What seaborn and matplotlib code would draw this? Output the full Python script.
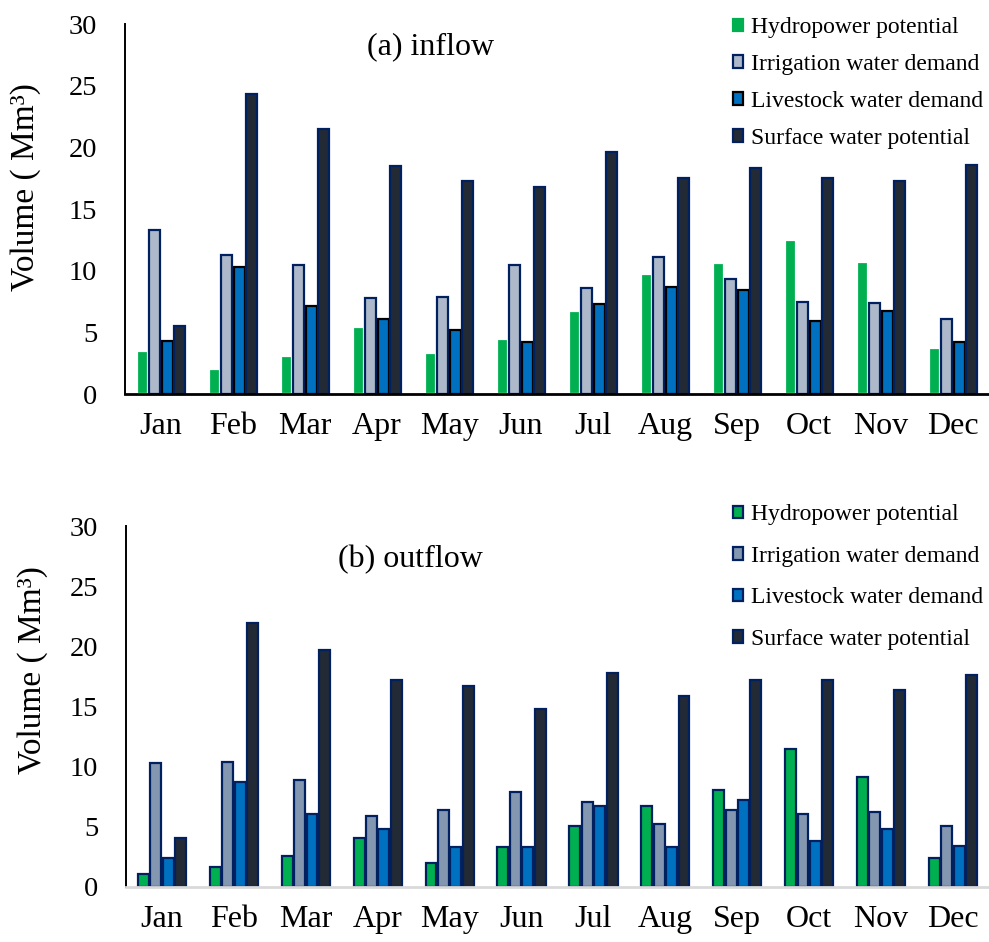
import matplotlib
matplotlib.use("Agg")
import matplotlib.pyplot as plt
from matplotlib.patches import Patch
import pandas as pd
import seaborn as sns

months = ["Jan", "Feb", "Mar", "Apr", "May", "Jun",
          "Jul", "Aug", "Sep", "Oct", "Nov", "Dec"]
series = ["Hydropower potential", "Irrigation water demand",
          "Livestock water demand", "Surface water potential"]

# (a) inflow, Mm3
in_hydro = [3.5, 2.0, 3.1, 5.4, 3.3, 4.5, 6.7, 9.7, 10.6, 12.5, 10.7, 3.7]
in_irrig = [13.3, 11.3, 10.5, 7.8, 7.9, 10.5, 8.6, 11.1, 9.3, 7.5, 7.4, 6.1]
in_live = [4.3, 10.3, 7.1, 6.1, 5.2, 4.2, 7.3, 8.7, 8.4, 5.9, 6.7, 4.2]
in_surf = [5.5, 24.3, 21.5, 18.5, 17.3, 16.8, 19.6, 17.5, 18.3, 17.5, 17.3, 18.6]

# (b) outflow, Mm3
out_hydro = [1.1, 1.7, 2.6, 4.1, 2.0, 3.3, 5.1, 6.7, 8.1, 11.5, 9.1, 2.4]
out_irrig = [10.3, 10.4, 8.9, 5.9, 6.4, 7.9, 7.1, 5.2, 6.4, 6.1, 6.2, 5.1]
out_live = [2.4, 8.7, 6.1, 4.8, 3.3, 3.3, 6.7, 3.3, 7.2, 3.8, 4.8, 3.4]
out_surf = [4.1, 21.9, 19.7, 17.2, 16.7, 14.8, 17.8, 15.9, 17.2, 17.2, 16.4, 17.6]

pal_in = ["#00B050", "#ADB9CA", "#0070C0", "#222A35"]
edge_in = ["white", "#002060", "black", "#002060"]
pal_out = ["#00B050", "#8497B0", "#0070C0", "#222A35"]
edge_out = ["#002060", "#002060", "#002060", "#002060"]


def long_table(vals):
    rows = []
    for name, v in zip(series, vals):
        for m, x in zip(months, v):
            rows.append({"month": m, "series": name, "value": x})
    return pd.DataFrame(rows)


sns.set_theme(style="white")
plt.rcParams["font.family"] = ["Liberation Serif", "DejaVu Serif"]
plt.rcParams["text.color"] = "black"
plt.rcParams["axes.labelcolor"] = "black"
plt.rcParams["xtick.color"] = "black"
plt.rcParams["ytick.color"] = "black"

fig = plt.figure(figsize=(9.89, 9.42), dpi=100)
ax1 = fig.add_axes([0.1264, 0.5817, 0.8736, 0.3928])
ax2 = fig.add_axes([0.1274, 0.0584, 0.8726, 0.3832])


def draw(ax, df, pal, edges, title, tpos, leg_top, leg_space, bottom_col):
    sns.barplot(data=df, x="month", y="value", hue="series", order=months,
                hue_order=series, palette=pal, saturation=1, width=0.69,
                gap=0.12, legend=False, ax=ax)
    for cont, ec in zip(ax.containers, edges):
        for bar in cont:
            bar.set_edgecolor(ec)
            bar.set_linewidth(1.6)
    ax.set_xlim(-0.5, 11.5)
    ax.set_ylim(0, 30)
    ax.set_yticks(range(0, 31, 5))
    ax.tick_params(axis="y", length=0, pad=20, labelsize=20.5)
    ax.tick_params(axis="x", length=0, pad=13, labelsize=23)
    ax.set_xlabel("")
    ax.set_ylabel("Volume ( Mm³)", fontsize=24)
    for s in ["top", "right"]:
        ax.spines[s].set_visible(False)
    ax.spines["left"].set_color("black")
    ax.spines["left"].set_linewidth(1.4)
    ax.spines["bottom"].set_color(bottom_col)
    ax.spines["bottom"].set_linewidth(2)
    fig.text(tpos[0], tpos[1], title, ha="center", va="center", fontsize=23)
    handles = [Patch(facecolor=c, edgecolor=(e if e != "white" else c),
                     linewidth=1.6) for c, e in zip(pal, edges)]
    ax.legend(handles, series, loc="upper left",
              bbox_to_anchor=(0.741, leg_top), bbox_transform=fig.transFigure,
              frameon=False, fontsize=17, handlelength=0.45,
              handleheight=0.45, handletextpad=0.3, labelspacing=leg_space,
              borderpad=0, borderaxespad=0)


draw(ax1, long_table([in_hydro, in_irrig, in_live, in_surf]), pal_in, edge_in,
     "(a) inflow", (0.435, 0.950), 0.9815, 0.67, "black")
draw(ax2, long_table([out_hydro, out_irrig, out_live, out_surf]), pal_out,
     edge_out, "(b) outflow", (0.4146, 0.4055), 0.4646, 0.87, "#D9D9D9")

ax1.yaxis.set_label_coords(-0.097, 0.56)
ax2.yaxis.set_label_coords(-0.090, 0.60)

fig.savefig("out.png", dpi=100)
